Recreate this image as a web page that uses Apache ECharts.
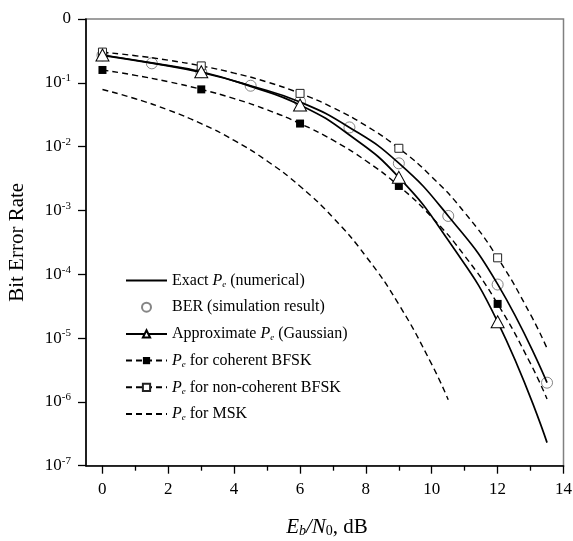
<!DOCTYPE html>
<html><head><meta charset="utf-8">
<script src="https://cdn.jsdelivr.net/npm/echarts@6/dist/echarts.min.js"></script>
<style>html,body{margin:0;padding:0;background:#fff}#c{width:573px;height:541px}</style>
</head><body><div id="c"></div>
<script>
// ---- data ----
const snrExact = [0, 1.5, 3, 4.5, 6, 7.5, 9, 10.5, 12, 13.5];
const peExact  = [0.27, 0.203, 0.145, 0.090, 0.050, 0.0200, 0.0055, 8.2e-4, 7.0e-5, 2.0e-6];

const snrBer = [0, 1.5, 3, 4.5, 6, 7.5, 9, 10.5, 12, 13.5];
const berSim = [0.27, 0.202, 0.147, 0.090, 0.051, 0.0200, 0.00547, 8.2e-4, 6.9e-5, 2.0e-6];

const snrApprox = [0, 1.5, 3, 4.5, 6, 7.5, 9, 10.5, 12, 13.5];
const peApprox  = [0.273, 0.205, 0.149, 0.088, 0.0449, 0.0152, 0.0033, 3.4e-4, 1.8e-5, 2.3e-7];
const approxMarks = [0, 3, 6, 9, 12];

const snrFsk = [0, 1, 2, 3, 4, 5, 6, 7, 8, 9, 10, 11, 12, 13, 13.5];
const peCohBfsk    = [0.159, 0.131, 0.104, 0.0789, 0.0565, 0.0377, 0.0230, 0.0126, 0.0060, 0.00242, 7.83e-4, 1.94e-4, 3.43e-5, 3.97e-6, 1.11e-6];
const peNonCohBfsk = [0.303, 0.266, 0.226, 0.184, 0.142, 0.103, 0.0683, 0.0408, 0.0213, 0.00942, 0.00337, 9.23e-4, 1.81e-4, 2.33e-5, 6.9e-6];
const fskMarks = [0, 3, 6, 9, 12];

const snrMsk = [0, 1, 2, 3, 4, 5, 6, 7, 8, 9, 10, 10.5];
const peMsk  = [0.0786, 0.0563, 0.0375, 0.0229, 0.0125, 0.00595, 0.00239, 7.73e-4, 1.91e-4, 3.36e-5, 3.87e-6, 1.08e-6];

const xTickMin = 0, xTickMax = 14, xTickStep = 2;
const yMinExp = -7, yMaxExp = 0;

const legendKeys = ['exact', 'ber', 'approx', 'coh', 'noncoh', 'msk'];
const legendLabels = {
  exact:  'Exact {i|P}{e|e} (numerical)',
  ber:    'BER (simulation result)',
  approx: 'Approximate {i|P}{e|e} (Gaussian)',
  coh:    '{i|P}{e|e} for coherent BFSK',
  noncoh: '{i|P}{e|e} for non-coherent BFSK',
  msk:    '{i|P}{e|e} for MSK'
};
const legendNoMarker = ['exact', 'msk'];

// ---- build ----
const F = 'Liberation Serif';
function pairs(xs, ys, marks) {
  return xs.map((x, i) => {
    const it = { value: [x, ys[i]] };
    if (marks && marks.indexOf(x) < 0) it.symbol = 'none';
    return it;
  });
}
const dash = [6, 4];

const chart = echarts.init(document.getElementById('c'), null, { renderer: 'canvas' });
const option = {
  animation: false,
  backgroundColor: '#fff',
  grid: [
    { left: 86, right: 9.5, top: 19, bottom: 75.3, containLabel: false, outerBoundsMode: 'none',
      show: true, borderColor: '#808080', borderWidth: 1.5, backgroundColor: 'transparent' },
    { left: 102.3, right: 9.5, top: 19, bottom: 75.3, containLabel: false, outerBoundsMode: 'none' }
  ],
  xAxis: [
    { type: 'value', gridIndex: 0, min: -0.5, max: 14,
      axisLine: { show: true, onZero: false, lineStyle: { color: '#000', width: 1.6 } },
      axisTick: { show: false }, axisLabel: { show: false }, splitLine: { show: false } },
    { type: 'value', gridIndex: 1, min: xTickMin, max: xTickMax, interval: xTickStep,
      axisLine: { show: false, onZero: false },
      axisTick: { show: true, inside: false, length: 8, lineStyle: { color: '#000', width: 1.3 } },
      minorTick: { show: true, splitNumber: 2, length: 5, lineStyle: { color: '#000', width: 1.3 } },
      axisLabel: { margin: 15, fontFamily: F, fontSize: 17, color: '#000' },
      splitLine: { show: false } }
  ],
  yAxis: [
    { type: 'log', gridIndex: 0, logBase: 10, min: Math.pow(10, yMinExp), max: Math.pow(10, yMaxExp), splitNumber: 7,
      name: 'Bit Error Rate', nameLocation: 'middle', nameGap: 58,
      nameTextStyle: { fontFamily: F, fontSize: 21, color: '#000' },
      axisLine: { show: true, onZero: false, lineStyle: { color: '#000', width: 1.6 } },
      axisTick: { show: true, inside: false, length: 8, lineStyle: { color: '#000', width: 1.3 } },
      splitLine: { show: false }, minorTick: { show: false },
      axisLabel: { margin: 15, color: '#000',
        formatter: function (v) {
          const k = Math.round(Math.log10(v));
          if (k === 0) return '{b|0}';
          return '{b|10}{s|' + k + '}';
        },
        rich: {
          b: { fontFamily: F, fontSize: 17, color: '#000', lineHeight: 20 },
          s: { fontFamily: F, fontSize: 11, color: '#000', verticalAlign: 'top', lineHeight: 11 }
        } } },
    { type: 'value', gridIndex: 1, show: false }
  ],
  legend: {
    orient: 'vertical', left: 125, top: 272, padding: 0,
    itemWidth: 41, itemHeight: 9, itemGap: 9.7,
    data: legendKeys.map(k => legendNoMarker.indexOf(k) >= 0
      ? { name: k, itemStyle: { opacity: 0 } }
      : { name: k }),
    formatter: function (n) { return legendLabels[n]; },
    textStyle: { fontFamily: F, fontSize: 16, color: '#000', lineHeight: 17,
      rich: {
        i: { fontFamily: F, fontSize: 16, fontStyle: 'italic', color: '#000', lineHeight: 17 },
        e: { fontFamily: F, fontSize: 9, fontStyle: 'italic', color: '#000', verticalAlign: 'bottom', lineHeight: 9 }
      } }
  },
  graphic: [
    { type: 'text', z: 100,
      style: { x: 327, y: 527, align: 'center', verticalAlign: 'middle',
        text: '{i|E}{sb|b}{i|/N}{sn|0}{n|, dB}',
        rich: {
          i: { fontFamily: F, fontSize: 21, fontStyle: 'italic', fill: '#000', lineHeight: 22 },
          n: { fontFamily: F, fontSize: 21, fill: '#000', lineHeight: 22 },
          sb: { fontFamily: F, fontSize: 14, fontStyle: 'italic', fill: '#000', verticalAlign: 'bottom', lineHeight: 13 },
          sn: { fontFamily: F, fontSize: 14, fill: '#000', verticalAlign: 'bottom', lineHeight: 13 }
        } } }
  ],
  series: [
    { name: 'msk', type: 'line', xAxisIndex: 0, yAxisIndex: 0, smooth: true, symbol: 'none',
      lineStyle: { color: '#000', width: 1.4, type: dash }, itemStyle: { color: '#000' },
      data: pairs(snrMsk, peMsk) },
    { name: 'noncoh', type: 'line', xAxisIndex: 0, yAxisIndex: 0, smooth: true, symbol: 'rect', symbolSize: 8,
      lineStyle: { color: '#000', width: 1.4, type: dash },
      itemStyle: { color: '#fff', borderColor: '#222', borderWidth: 1 },
      data: pairs(snrFsk, peNonCohBfsk, fskMarks) },
    { name: 'coh', type: 'line', xAxisIndex: 0, yAxisIndex: 0, smooth: true, symbol: 'rect', symbolSize: 8,
      lineStyle: { color: '#000', width: 1.4, type: dash },
      itemStyle: { color: '#000', borderColor: '#000', borderWidth: 0 },
      data: pairs(snrFsk, peCohBfsk, fskMarks) },
    { name: 'exact', type: 'line', xAxisIndex: 0, yAxisIndex: 0, smooth: true, symbol: 'none',
      lineStyle: { color: '#000', width: 1.7, type: 'solid' }, itemStyle: { color: '#000' },
      data: pairs(snrExact, peExact) },
    { name: 'ber', type: 'scatter', xAxisIndex: 0, yAxisIndex: 0, symbol: 'circle', symbolSize: 11,
      itemStyle: { color: '#fff', borderColor: '#666', borderWidth: 1 },
      data: pairs(snrBer, berSim) },
    { name: 'approx', type: 'line', xAxisIndex: 0, yAxisIndex: 0, smooth: true, symbol: 'triangle', symbolSize: [13, 12],
      lineStyle: { color: '#000', width: 1.7, type: 'solid' },
      itemStyle: { color: '#fff', borderColor: '#000', borderWidth: 1 },
      data: pairs(snrApprox, peApprox, approxMarks) }
  ]
};
chart.setOption(option);
</script>
</body></html>
